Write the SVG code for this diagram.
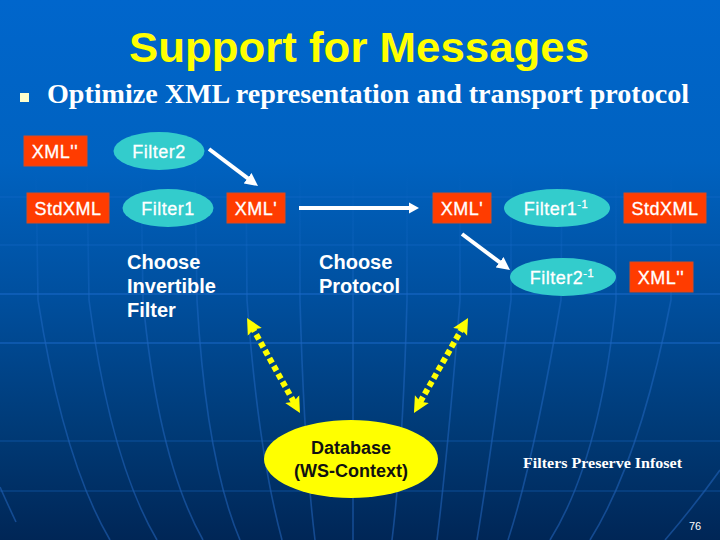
<svg xmlns="http://www.w3.org/2000/svg" width="720" height="540" viewBox="0 0 720 540">
<defs>
<linearGradient id="bg" x1="0" y1="0" x2="0" y2="1">
<stop offset="0" stop-color="#0066cc"/><stop offset="0.3" stop-color="#0062c0"/><stop offset="0.55" stop-color="#004f9e"/><stop offset="0.8" stop-color="#003a76"/><stop offset="1" stop-color="#002656"/>
</linearGradient>
<linearGradient id="vg" gradientUnits="userSpaceOnUse" x1="0" y1="170" x2="0" y2="540">
<stop offset="0" stop-color="#1a6ccc" stop-opacity="0"/><stop offset="0.2" stop-color="#1a6ccc" stop-opacity=".25"/><stop offset="0.4" stop-color="#1c66c0" stop-opacity=".6"/><stop offset="1" stop-color="#1c58a8" stop-opacity=".7"/>
</linearGradient>
<marker id="wh" markerUnits="userSpaceOnUse" markerWidth="14" markerHeight="14" refX="7" refY="7" orient="auto"><path d="M0 0.500L13 7L0 13.500z" fill="#fff"/></marker>
<marker id="wh2" markerUnits="userSpaceOnUse" markerWidth="11" markerHeight="12" refX="4" refY="6" orient="auto"><path d="M0 0.500L10 6L0 11.500z" fill="#fff"/></marker>
<marker id="ye" markerUnits="userSpaceOnUse" markerWidth="17" markerHeight="20" refX="6" refY="10" orient="auto-start-reverse"><path d="M16 10L0 2L3 10L0 18z" fill="#ffff00"/></marker>
</defs>
<style>
text{font-family:"Liberation Sans",Arial,sans-serif}
.v{fill:none;stroke:url(#vg);stroke-width:1.6}
.h1{fill:none;stroke:#1a6ccc;stroke-width:1;opacity:.5}
.h2{fill:none;stroke:#2272d6;stroke-width:1.2;opacity:.8}
.r{fill:#ff3c00;stroke:#d84a20;stroke-width:1}
.e{fill:#33cccc}
.t{fill:#fff;stroke:#fff;stroke-width:.3;font-size:18px;letter-spacing:.5px;text-anchor:middle}
.l{fill:#fff;font-size:20px;font-weight:700}
.d{fill:#111;font-size:18px;font-weight:700;text-anchor:middle}
.w{stroke:#fff;stroke-width:4;fill:none}
.y{stroke:#ffff00;stroke-width:6;stroke-dasharray:5.500 3.500;fill:none}
</style>
<rect width="720" height="540" fill="url(#bg)"/>
<g id="grid">
<path class="h1" d="M0 197H720M0 245H720M0 441H720M0 491H720"/>
<path class="h2" d="M0 294H720M0 343H720"/>
<path class="v" d="M36 170L38 300Q63 460 110 540M87 170L89 300Q110 460 157 540M141 170L143 300Q158 460 203 540M195 170L197 300Q206 460 240 540M246 170L247 300Q258 450 282 540M300 170V300Q304 450 315 540M353 170V540M407 170V300Q403 450 392 540M460 170V300Q448 450 437 540M511 170V300Q490 460 477 540M562 170L561 300Q534 460 508 540M616 170V300Q600 460 550 540M671 170V300Q640 460 590 540M0 487Q8 505 16 522M720 470Q695 505 665 540"/>
</g>
<text x="359" y="62" font-size="43" font-weight="700" fill="#ffff00" text-anchor="middle" textLength="460" lengthAdjust="spacingAndGlyphs">Support for Messages</text>
<rect x="20" y="93" width="9" height="9" fill="#ffffcc"/>
<text x="47" y="103" font-size="28" font-weight="700" fill="#fff" style="font-family:'Liberation Serif',serif" textLength="642" lengthAdjust="spacingAndGlyphs">Optimize XML representation and transport protocol</text>
<g id="connectors">
<path class="w" d="M209 149L253.200 182.400" marker-end="url(#wh)"/>
<path class="w" d="M299 208H413" marker-end="url(#wh2)"/>
<path class="w" d="M462 234L505.200 266.400" marker-end="url(#wh)"/>
<path class="y" d="M251.900 326.700L295.100 404.300" marker-start="url(#ye)" marker-end="url(#ye)"/>
<path class="y" d="M463.100 326.700L418.900 404.300" marker-start="url(#ye)" marker-end="url(#ye)"/>
</g>
<g id="xml2"><rect class="r" x="24" y="136" width="63" height="30"/><text class="t" x="55" y="158">XML''</text></g>
<g id="filter2"><ellipse class="e" cx="159" cy="151" rx="45.500" ry="19"/><text class="t" x="159" y="158">Filter2</text></g>
<g id="stdxml1"><rect class="r" x="27" y="193" width="82" height="30"/><text class="t" x="68" y="215">StdXML</text></g>
<g id="filter1"><ellipse class="e" cx="168" cy="208" rx="45.500" ry="19"/><text class="t" x="168" y="215">Filter1</text></g>
<g id="xml1"><rect class="r" x="227" y="193" width="58" height="30"/><text class="t" x="256" y="215">XML'</text></g>
<g id="xml3"><rect class="r" x="433" y="193" width="58" height="30"/><text class="t" x="462" y="215">XML'</text></g>
<g id="filter1inv"><ellipse class="e" cx="557" cy="208" rx="53" ry="19"/><text class="t" x="556" y="215">Filter1<tspan font-size="11" dy="-7">-1</tspan></text></g>
<g id="stdxml2"><rect class="r" x="624" y="193" width="82" height="30"/><text class="t" x="665" y="215">StdXML</text></g>
<g id="filter2inv"><ellipse class="e" cx="563" cy="277" rx="53" ry="19"/><text class="t" x="562" y="284">Filter2<tspan font-size="11" dy="-7">-1</tspan></text></g>
<g id="xml4"><rect class="r" x="630" y="262" width="63" height="30"/><text class="t" x="661" y="284">XML''</text></g>
<g id="label1"><text class="l" x="127" y="269">Choose</text><text class="l" x="127" y="293">Invertible</text><text class="l" x="127" y="317">Filter</text></g>
<g id="label2"><text class="l" x="319" y="269">Choose</text><text class="l" x="319" y="293">Protocol</text></g>
<g id="database"><ellipse cx="351" cy="459" rx="87" ry="39" fill="#ffff00"/><text class="d" x="351" y="454">Database</text><text class="d" x="351" y="477">(WS-Context)</text></g>
<text x="523" y="468" font-size="14" font-weight="700" fill="#fff" style="font-family:'Liberation Serif',serif" textLength="159" lengthAdjust="spacingAndGlyphs">Filters Preserve Infoset</text>
<text x="689" y="530" font-size="11" fill="#fff">76</text>
</svg>
